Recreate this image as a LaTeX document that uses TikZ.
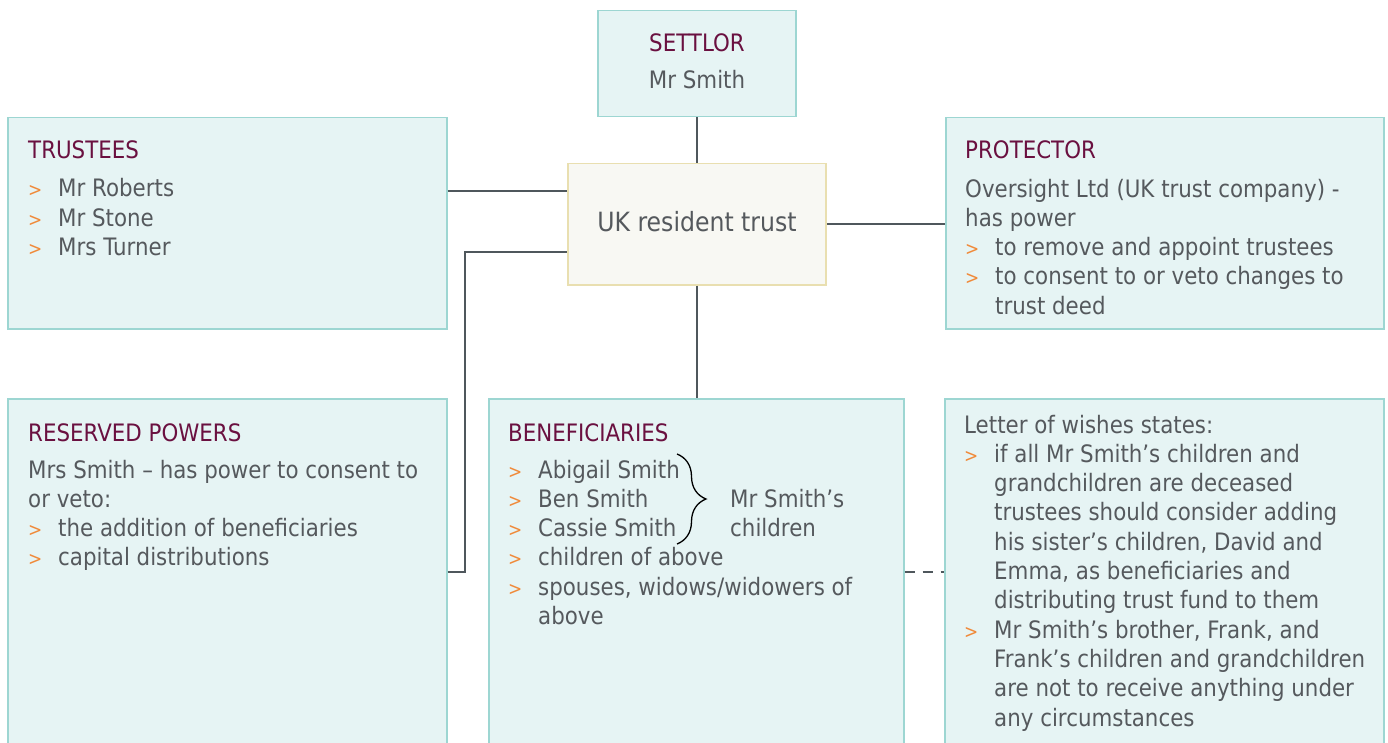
\documentclass[tikz,border=0pt]{standalone}
\usepackage{fontspec}
\setmainfont{DejaVu Sans}[FakeStretch=0.89]
\usetikzlibrary{decorations.pathreplacing}
\definecolor{boxfill}{HTML}{E6F4F4}
\definecolor{boxline}{HTML}{9DD6D2}
\definecolor{titlecol}{HTML}{6A1040}
\definecolor{txtcol}{HTML}{55595D}
\definecolor{bulcol}{HTML}{F08A3A}
\definecolor{conncol}{HTML}{4F575C}
\definecolor{trustfill}{HTML}{F8F8F3}
\definecolor{trustline}{HTML}{E9DFB0}
\newcommand{\bl}{\makebox[30pt][l]{\textcolor{bulcol}{\fontsize{19}{19}\selectfont >}}}
\newcommand{\ind}{\hspace*{30pt}}
\newcommand{\ttl}[1]{\textcolor{titlecol}{#1}}
\begin{document}
\begin{tikzpicture}[x=1pt,y=-1pt,
  box/.style={draw=boxline, fill=boxfill, line width=1.5pt, rectangle, inner sep=0pt, anchor=north west},
  tbox/.style={draw=trustline, fill=trustfill, line width=1.5pt, rectangle, inner sep=0pt, anchor=north west},
  txt/.style={inner sep=0pt, text=txtcol, font=\fontsize{24}{29.3}\selectfont, align=left, anchor=base west},
  ctxt/.style={inner sep=0pt, text=txtcol, font=\fontsize{24}{29.3}\selectfont, anchor=base},
  conn/.style={draw=conncol, line width=2.5pt},
  dconn/.style={draw=conncol, line width=2.5pt, dash pattern=on 10pt off 8pt}
]
\useasboundingbox (0,0) rectangle (1388,743);
\clip (0,0) rectangle (1388,743);
\fill[white] (0,0) rectangle (1388,743);

% boxes
\node[box, minimum width=198pt, minimum height=106pt] (settlor) at (597,10) {};
\node[box, minimum width=439pt, minimum height=211pt] (trustees) at (7,117) {};
\node[box, minimum width=438pt, minimum height=211pt] (protector) at (945,117) {};
\node[tbox, minimum width=258pt, minimum height=121pt] (trust) at (567,163) {};
\node[box, minimum width=439pt, minimum height=360pt] (reserved) at (7,398) {};
\node[box, minimum width=415pt, minimum height=360pt] (benef) at (488,398) {};
\node[box, minimum width=439pt, minimum height=360pt] (letter) at (944,398) {};

% connectors
\draw[conn] (settlor.south) -- (settlor.south |- trust.north);
\draw[conn] (trustees.east |- 0,191) -- (trust.west |- 0,191);
\draw[conn] (protector.west |- 0,224) -- (trust.east |- 0,224);
\draw[conn] (trust.south) -- (trust.south |- benef.north);
\coordinate (rpA) at (465,572);
\coordinate (rpB) at (465,252);
\draw[conn] (reserved.east |- rpA) -- (rpA) -- (rpB) -- (trust.west |- rpB);
\draw[dconn] (benef.east |- 0,572) -- (letter.west |- 0,572);

% texts (multi-line nodes are placed by the baseline of their last line)
\node[ctxt] (settlorT) at (697,52) {\ttl{SETTLOR}};
\node[ctxt] (settlorN) at (697,89) {Mr Smith};
\node[ctxt, font=\fontsize{26.5}{30}\selectfont] (trustT) at (697,232) {UK resident trust};

\node[txt] (trusteesT) at (28,159) {\ttl{TRUSTEES}};
\node[txt] (trusteesB) at (28,255.6) {\bl Mr Roberts\\ \bl Mr Stone\\ \bl Mrs Turner};

\node[txt] (protT) at (965,159) {\ttl{PROTECTOR}};
\node[txt] (protB) at (965,314.2) {Oversight Ltd (UK trust company) -\\ has power\\ \bl to remove and appoint trustees\\ \bl to consent to or veto changes to\\ \ind trust deed};

\node[txt] (resT) at (28,441) {\ttl{RESERVED POWERS}};
\node[txt] (resB) at (28,565.9) {Mrs Smith – has power to consent to\\ or veto:\\ \bl the addition of beneficiaries\\ \bl capital distributions};

\node[txt] (benT) at (508,441) {\ttl{BENEFICIARIES}};
\node[txt] (benB) at (508,624.5) {\bl Abigail Smith\\ \bl Ben Smith\\ \bl Cassie Smith\\ \bl children of above\\ \bl spouses, widows/widowers of\\ \ind above};
\coordinate (brA) at (677,454);
\coordinate (brB) at (677,544);
\draw[decorate, decoration={brace, amplitude=29pt}, line width=1.3pt, black] (brA) -- (brB);
\node[txt] (benC) at (730,536.3) {Mr Smith’s\\ children};

\node[txt] (letB) at (964,726) {Letter of wishes states:\\ \bl if all Mr Smith’s children and\\ \ind grandchildren are deceased\\ \ind trustees should consider adding\\ \ind his sister’s children, David and\\ \ind Emma, as beneficiaries and\\ \ind distributing trust fund to them\\ \bl Mr Smith’s brother, Frank, and\\ \ind Frank’s children and grandchildren\\ \ind are not to receive anything under\\ \ind any circumstances};
\end{tikzpicture}
\end{document}
